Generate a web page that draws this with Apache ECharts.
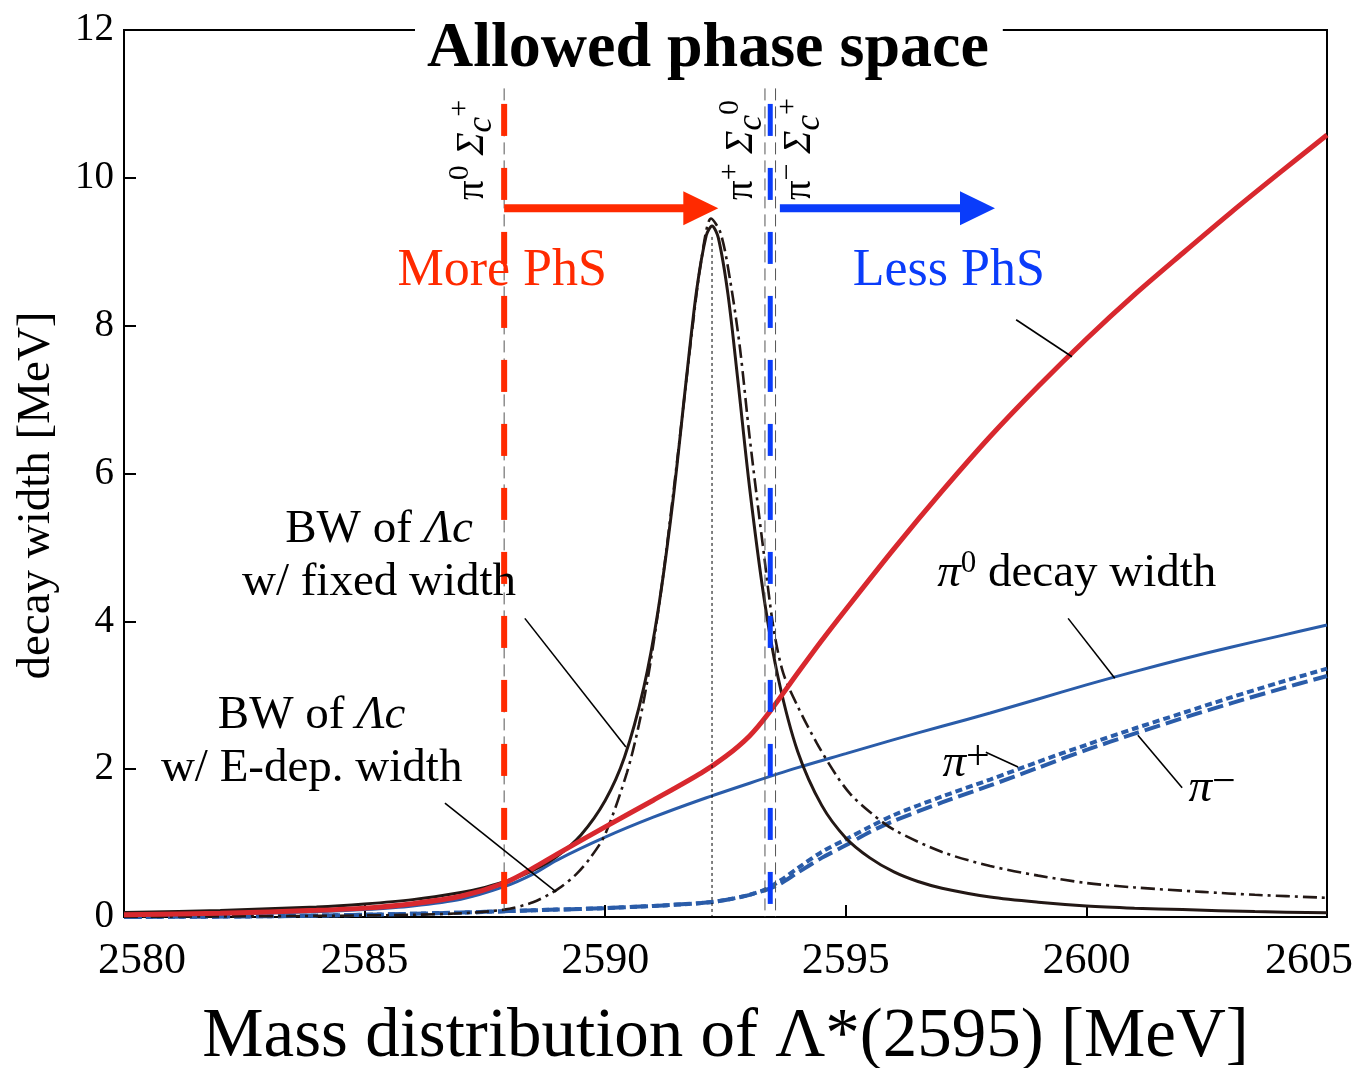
<!DOCTYPE html>
<html>
<head>
<meta charset="utf-8">
<title>Lambda_c(2595) decay width</title>
<script src="https://cdn.jsdelivr.net/npm/echarts@6/dist/echarts.min.js"></script>
<style>
  html, body { margin: 0; padding: 0; background: #fff; }
  #chart { width: 1366px; height: 1068px; }
</style>
</head>
<body>
<div id="chart"></div>
<script>
// ---- data (MeV) ----
const xTicks = [2580, 2585, 2590, 2595, 2600, 2605];

// Breit-Wigner of Lambda_c with fixed width
const bwFixedMass  = [2580, 2582, 2584, 2585, 2586, 2587, 2587.5, 2588, 2588.5, 2589, 2589.5, 2590, 2590.4, 2590.8, 2591.1, 2591.4, 2591.7, 2591.9, 2592.1, 2592.22, 2592.35, 2592.55, 2592.75, 2593.0, 2593.3, 2593.6, 2594, 2594.5, 2595, 2595.5, 2596, 2596.5, 2597, 2598, 2599, 2600, 2601, 2602, 2603.5, 2605];
const bwFixedValue = [0.062, 0.089, 0.136, 0.176, 0.235, 0.332, 0.401, 0.497, 0.630, 0.822, 1.113, 1.576, 2.16, 3.10, 4.15, 5.59, 7.36, 8.48, 9.22, 9.35, 9.19, 8.43, 7.30, 5.81, 4.32, 3.22, 2.24, 1.51, 1.07, 0.80, 0.61, 0.48, 0.39, 0.27, 0.20, 0.15, 0.12, 0.10, 0.073, 0.057];

// Breit-Wigner of Lambda_c with energy-dependent width
const bwEdepMass  = [2580, 2582, 2584, 2586, 2587, 2587.9, 2588.5, 2589, 2589.4, 2589.7, 2590, 2590.45, 2590.7, 2590.93, 2591.2, 2591.5, 2591.8, 2592.0, 2592.2, 2592.4, 2592.6, 2592.8, 2593.0, 2593.3, 2593.5, 2593.7, 2594, 2594.4, 2594.8, 2595.1, 2595.5, 2596, 2597, 2598, 2599, 2600, 2601, 2602.4, 2603.5, 2605];
const bwEdepValue = [0.004, 0.008, 0.015, 0.03, 0.05, 0.1, 0.2, 0.37, 0.58, 0.81, 1.12, 1.95, 2.6, 3.4, 4.6, 6.2, 7.9, 8.9, 9.45, 9.25, 8.6, 7.7, 6.5, 4.9, 3.9, 3.3, 2.85, 2.35, 1.92, 1.66, 1.42, 1.18, 0.88, 0.69, 0.56, 0.46, 0.40, 0.34, 0.30, 0.26];

// total decay width
const totalMass  = [2580, 2582, 2584, 2585, 2586, 2587, 2587.9, 2588.5, 2589, 2590, 2591, 2592, 2592.5, 2593, 2593.4, 2594, 2594.5, 2595, 2596, 2597, 2598, 2599, 2600, 2601, 2602, 2603, 2604, 2605];
const totalWidth = [0.03, 0.05, 0.09, 0.12, 0.18, 0.28, 0.46, 0.66, 0.85, 1.22, 1.58, 1.95, 2.17, 2.45, 2.76, 3.3, 3.74, 4.16, 4.98, 5.76, 6.5, 7.18, 7.82, 8.42, 8.98, 9.53, 10.06, 10.58];

// partial widths
const pi0Mass  = [2580, 2582, 2584, 2585, 2586, 2587, 2587.9, 2588.5, 2589, 2590, 2591, 2592, 2593, 2594, 2595, 2596, 2597, 2598, 2599, 2600, 2601, 2602, 2603, 2604, 2605];
const pi0Width = [0.02, 0.04, 0.07, 0.1, 0.15, 0.24, 0.41, 0.58, 0.77, 1.08, 1.35, 1.59, 1.81, 2.02, 2.21, 2.40, 2.58, 2.76, 2.95, 3.14, 3.32, 3.49, 3.65, 3.80, 3.95];

const piPlusMass  = [2580, 2583, 2585, 2587, 2588, 2589, 2590, 2591, 2592, 2592.5, 2593, 2593.35, 2593.7, 2594, 2594.5, 2595, 2595.5, 2596, 2597, 2598, 2599, 2600, 2601, 2602, 2603, 2604, 2605];
const piPlusWidth = [0.0, 0.01, 0.03, 0.06, 0.08, 0.1, 0.12, 0.15, 0.19, 0.23, 0.3, 0.38, 0.52, 0.66, 0.88, 1.05, 1.22, 1.38, 1.63, 1.86, 2.1, 2.33, 2.55, 2.76, 2.97, 3.17, 3.36];

const piMinusMass  = [2580, 2583, 2585, 2587, 2588, 2589, 2590, 2591, 2592, 2592.5, 2593, 2593.55, 2594, 2594.5, 2595, 2595.5, 2596, 2597, 2598, 2599, 2600, 2601, 2602, 2603, 2604, 2605];
const piMinusWidth = [0.0, 0.01, 0.03, 0.06, 0.08, 0.1, 0.12, 0.15, 0.19, 0.23, 0.3, 0.42, 0.6, 0.8, 0.97, 1.15, 1.3, 1.55, 1.78, 2.02, 2.26, 2.48, 2.69, 2.89, 3.08, 3.26];

// thresholds: pi0 Sigma_c+, pi+ Sigma_c0, pi- Sigma_c++
const thresholds = [2587.9, 2593.32, 2593.54];
const openedThreshold = 2593.43;
const peakMass = 2592.22;

const zip = (xs, ys) => xs.map((x, i) => [x, ys[i]]);

const SERIF = '"Liberation Serif", "Times New Roman", serif';
const RED_CURVE = '#d8282e';
const BLUE_CURVE = '#2a5ca9';
const ORANGE_RED = '#ff2a00';
const BRIGHT_BLUE = '#0a3cfa';
const INK = '#231815';

const chart = echarts.init(document.getElementById('chart'), null, { renderer: 'canvas' });

function seg(points, style, z) {
  return { type: 'line', data: points, symbol: 'none', silent: true, z: z || 3,
           lineStyle: style, animation: false };
}

const option = {
  animation: false,
  backgroundColor: '#fff',
  title: {
    text: 'Allowed phase space',
    left: 415, top: 13,
    padding: [4, 14, 4, 12],
    backgroundColor: '#fff',
    textStyle: { fontFamily: SERIF, fontWeight: 'bold', fontSize: 64, color: '#000' }
  },
  grid: {
    left: 124, right: 39, top: 30, bottom: 151,
    outerBoundsMode: 'none', containLabel: false,
    show: true, borderColor: '#000', borderWidth: 2
  },
  xAxis: {
    type: 'value', min: xTicks[0], max: xTicks[xTicks.length - 1], interval: 5,
    name: 'Mass distribution of Λ*(2595) [MeV]',
    nameLocation: 'middle', nameGap: 86,
    nameTextStyle: { fontFamily: SERIF, fontSize: 69, color: '#000' },
    axisLine: { lineStyle: { color: '#000', width: 2 } },
    axisTick: { inside: true, length: 12, lineStyle: { color: '#000', width: 2 } },
    splitLine: { show: false },
    axisLabel: {
      fontFamily: SERIF, fontSize: 44, color: '#000', margin: 22,
      formatter: v => v === xTicks[0] ? '{first|' + v + '}' : (v === xTicks[xTicks.length - 1] ? '{last|' + v + '}' : '' + v),
      rich: {
        first: { fontFamily: SERIF, fontSize: 44, color: '#000', padding: [0, 0, 0, 36] },
        last: { fontFamily: SERIF, fontSize: 44, color: '#000', padding: [0, 36, 0, 0] }
      }
    }
  },
  yAxis: {
    type: 'value', min: 0, max: 12, interval: 2,
    name: 'decay width [MeV]',
    nameLocation: 'middle', nameGap: 64, nameRotate: 90,
    nameTextStyle: { fontFamily: SERIF, fontSize: 47, color: '#000', padding: [0, 44, 0, 0] },
    axisLine: { lineStyle: { color: '#000', width: 2 } },
    axisTick: { inside: true, length: 12, lineStyle: { color: '#000', width: 2 } },
    splitLine: { show: false },
    axisLabel: { fontFamily: SERIF, fontSize: 39, color: '#000', margin: 10 }
  },
  series: [
    seg(zip(piMinusMass, piMinusWidth), { color: BLUE_CURVE, width: 4, type: [16, 6] }, 3),
    seg(zip(piPlusMass, piPlusWidth), { color: BLUE_CURVE, width: 4, type: [7, 4] }, 3),
    seg(zip(pi0Mass, pi0Width), { color: BLUE_CURVE, width: 3 }, 3),
    seg(zip(bwFixedMass, bwFixedValue), { color: INK, width: 3 }, 4),
    seg(zip(bwEdepMass, bwEdepValue), { color: INK, width: 2.6, type: [14, 5, 3, 5] }, 4),
    seg(zip(totalMass, totalWidth), { color: RED_CURVE, width: 5 }, 5),
    // threshold markers
    ...thresholds.map(m => seg([[m, 11.21], [m, 0]], { color: '#555', width: 1, type: [12, 6] }, 6)),
    seg([[thresholds[0], 11.0], [thresholds[0], 0]], { color: ORANGE_RED, width: 6, type: [32, 32] }, 7),
    seg([[openedThreshold, 11.0], [openedThreshold, 0]], { color: BRIGHT_BLUE, width: 5, type: [32, 32] }, 7),
    seg([[peakMass, 9.2], [peakMass, 0]], { color: '#000', width: 1, type: [3, 3] }, 6),
    // leader lines
    seg([[2588.33, 4.04], [2590.43, 2.30]], { color: '#000', width: 1.6 }, 8),
    seg([[2586.67, 1.54], [2588.98, 0.34]], { color: '#000', width: 1.6 }, 8),
    seg([[2599.62, 4.04], [2600.59, 3.23]], { color: '#000', width: 1.6 }, 8),
    seg([[2597.91, 2.23], [2598.58, 2.03]], { color: '#000', width: 1.6 }, 8),
    seg([[2601.07, 2.46], [2601.99, 1.75]], { color: '#000', width: 1.6 }, 8),
    seg([[2598.54, 8.08], [2599.70, 7.58]], { color: '#000', width: 1.6 }, 8)
  ].map(s => Object.assign(s, { smooth: s.data.length > 2 ? 0.3 : false }))
};

chart.setOption(option);

const P = (m, v) => chart.convertToPixel({ gridIndex: 0 }, [m, v]);

function arrow(m0, m1, v, color) {
  const a = P(m0, v), b = P(m1, v);
  const head = 35, half = 17, thick = 8;
  return [
    { type: 'rect', shape: { x: a[0], y: a[1] - thick / 2, width: b[0] - head - a[0] + 2, height: thick }, style: { fill: color }, z: 20 },
    { type: 'polygon', shape: { points: [[b[0] - head, b[1] - half], [b[0], b[1]], [b[0] - head, b[1] + half]] }, style: { fill: color }, z: 20 }
  ];
}

function txt(m, v, content, opts) {
  const p = P(m, v);
  return {
    type: 'text', x: p[0], y: p[1], z: 30,
    style: Object.assign({
      text: content, fill: '#000', fontFamily: SERIF, fontSize: 47,
      align: 'center', verticalAlign: 'middle', textAlign: 'center', textVerticalAlign: 'middle'
    }, opts || {})
  };
}

const chanRich = {
  p: { fontFamily: SERIF, fontSize: 39, lineHeight: 54, fill: '#000' },
  sg: { fontFamily: SERIF, fontSize: 39, fontStyle: 'italic', lineHeight: 54, fill: '#000' },
  sup: { fontFamily: SERIF, fontSize: 30, lineHeight: 28, verticalAlign: 'top', fill: '#000' },
  sub: { fontFamily: SERIF, fontSize: 35, fontStyle: 'italic', lineHeight: 32, verticalAlign: 'bottom', fill: '#000' }
};

function channel(m, v, label) {
  const p = P(m, v);
  return {
    type: 'text', x: p[0], y: p[1], rotation: Math.PI / 2, z: 30,
    style: { text: label, rich: chanRich, align: 'left', verticalAlign: 'middle', textAlign: 'left', textVerticalAlign: 'middle' }
  };
}

const bwRich = {
  t: { fontFamily: SERIF, fontSize: 47, lineHeight: 53, fill: '#000' },
  it: { fontFamily: SERIF, fontSize: 47, fontStyle: 'italic', lineHeight: 53, fill: '#000' }
};
const piRich = {
  t: { fontFamily: SERIF, fontSize: 47, lineHeight: 52, fill: '#000' },
  pi: { fontFamily: SERIF, fontSize: 47, fontStyle: 'italic', lineHeight: 52, fill: '#000' },
  sup: { fontFamily: SERIF, fontSize: 31, lineHeight: 34, verticalAlign: 'top', fill: '#000' },
  big: { fontFamily: SERIF, fontSize: 42, lineHeight: 40, verticalAlign: 'top', fill: '#000' }
};

const graphics = [
  ...arrow(thresholds[0], 2592.35, 9.59, ORANGE_RED),
  ...arrow(2593.63, 2598.1, 9.59, BRIGHT_BLUE),
  txt(2587.86, 8.74, 'More PhS', { fill: ORANGE_RED, fontSize: 52 }),
  txt(2597.14, 8.74, 'Less PhS', { fill: BRIGHT_BLUE, fontSize: 52 }),
  channel(2587.24, 9.70, '{p|π}{sup|0}{p| }{sg|Σ}{sub|c}{sup|+}'),
  channel(2592.84, 9.70, '{p|π}{sup|+}{p| }{sg|Σ}{sub|c}{sup|0}'),
  channel(2594.05, 9.70, '{p|π}{sup|−}{p| }{sg|Σ}{sub|c}{sup|+}'),
  txt(2585.30, 4.88, '{t|BW of }{it|Λc}\n{t|w/ fixed width}', { rich: bwRich }),
  txt(2583.90, 2.36, '{t|BW of }{it|Λc}\n{t|w/ E-dep. width}', { rich: bwRich }),
  txt(2599.80, 4.64, '{pi|π}{sup|0}{t| decay width}', { rich: piRich }),
  txt(2597.50, 2.08, '{pi|π}{big|+}', { rich: piRich }),
  txt(2602.61, 1.74, '{pi|π}{big|−}', { rich: piRich })
];

chart.setOption({ graphic: graphics });
</script>
</body>
</html>
